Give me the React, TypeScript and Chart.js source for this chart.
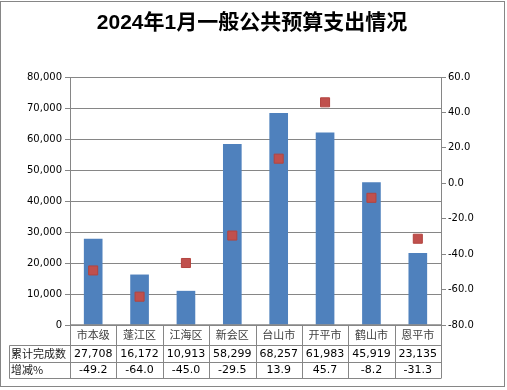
import React, { useEffect, useRef } from "react";
import { Chart, registerables } from "chart.js";

Chart.register(...registerables);

const title = "2024年1月一般公共预算支出情况";
const categories = ["市本级", "蓬江区", "江海区", "新会区", "台山市", "开平市", "鹤山市", "恩平市"];
const completed = [27708, 16172, 10913, 58299, 68257, 61983, 45919, 23135];
const change = [-49.2, -64.0, -45.0, -29.5, 13.9, 45.7, -8.2, -31.3];
const rowLabels = ["累计完成数", "增减%"];

const GRID = "#868686";
const BLUE = "#4F81BD";
const RED = "#C0504D";
const NUM_FONT = '"DejaVu Sans", sans-serif';
const CJK_FONT = '"Noto Sans CJK SC", sans-serif';

const fmtInt = (v: number) => v.toLocaleString("en-US");
const fmt1 = (v: number) => v.toFixed(1);

const decorPlugin = {
  id: "decor",
  beforeDraw(chart: any) {
    const ctx = chart.ctx;
    ctx.save();
    ctx.fillStyle = "#ffffff";
    ctx.fillRect(0, 0, chart.width, chart.height);
    ctx.restore();
  },
  afterDraw(chart: any) {
    const ctx = chart.ctx;
    const a = chart.chartArea;
    const L = a.left;
    const R = a.right;
    const y0 = a.bottom;
    const y1 = y0 + 20;
    const y2 = y1 + 17;
    const y3 = y2 + 16;
    const x0 = 9.5;
    const n = categories.length;
    const w = (R - L) / n;
    ctx.save();
    // outer border
    ctx.strokeStyle = GRID;
    ctx.lineWidth = 1;
    ctx.strokeRect(0.5, 1.5, 504, 385);
    // title
    ctx.fillStyle = "#000";
    ctx.font = 'bold 21px "Liberation Sans", "Noto Sans CJK SC", sans-serif';
    ctx.textAlign = "center";
    ctx.textBaseline = "middle";
    ctx.fillText(title, 252, 23);
    // table lines
    ctx.strokeStyle = GRID;
    ctx.lineWidth = 1;
    ctx.beginPath();
    [y1, y2, y3].forEach((y) => {
      ctx.moveTo(x0, Math.round(y) + 0.5);
      ctx.lineTo(R, Math.round(y) + 0.5);
    });
    for (let i = 0; i <= n; i++) {
      const x = Math.round(L + i * w) + 0.5;
      ctx.moveTo(x, y0);
      ctx.lineTo(x, Math.round(y3) + 0.5);
    }
    ctx.moveTo(x0, Math.round(y1) + 0.5);
    ctx.lineTo(x0, Math.round(y3) + 0.5);
    ctx.stroke();
    // axis line
    ctx.lineWidth = 1.5;
    ctx.beginPath();
    ctx.moveTo(L, y0);
    ctx.lineTo(R, y0);
    ctx.stroke();
    // texts
    ctx.textBaseline = "middle";
    ctx.textAlign = "center";
    ctx.font = "11px " + CJK_FONT;
    ctx.fillStyle = "#404040";
    categories.forEach((c, i) => {
      ctx.fillText(c, L + (i + 0.5) * w, (y0 + y1) / 2);
    });
    ctx.fillStyle = "#000";
    ctx.font = "11px " + NUM_FONT;
    completed.forEach((v, i) => {
      ctx.fillText(fmtInt(v), L + (i + 0.5) * w, (y1 + y2) / 2 + 0.5);
    });
    change.forEach((v, i) => {
      ctx.fillText(fmt1(v), L + (i + 0.5) * w, (y2 + y3) / 2 + 0.5);
    });
    ctx.textAlign = "left";
    ctx.font = "11px " + CJK_FONT;
    ctx.fillStyle = "#202020";
    ctx.fillText(rowLabels[0], x0 + 1.5, (y1 + y2) / 2);
    ctx.fillText(rowLabels[1], x0 + 1.5, (y2 + y3) / 2);
    ctx.restore();
  },
};

export default function App() {
  const ref = useRef<HTMLCanvasElement | null>(null);
  useEffect(() => {
    if (!ref.current) return;
    const chart = new Chart(ref.current, {
      type: "bar",
      data: {
        labels: categories,
        datasets: [
          {
            type: "line" as any,
            label: rowLabels[1],
            data: change,
            yAxisID: "y1",
            showLine: false,
            pointStyle: "rect",
            pointRadius: 6.4,
            pointBackgroundColor: RED,
            pointBorderColor: "#B3443F",
            pointBorderWidth: 1,
            backgroundColor: RED,
            borderColor: RED,
            order: 0,
          } as any,
          {
            type: "bar",
            label: rowLabels[0],
            data: completed,
            yAxisID: "y",
            backgroundColor: BLUE,
            barThickness: 18,
            order: 1,
          },
        ],
      },
      plugins: [decorPlugin],
      options: {
        animation: false,
        responsive: false,
        layout: { padding: { top: 77, left: 0, right: 0, bottom: 0 } },
        plugins: {
          legend: { display: false },
          title: { display: false },
          tooltip: { enabled: false },
        },
        scales: {
          x: {
            grid: { display: false },
            border: { display: false },
            ticks: { display: false },
            afterFit: (s: any) => {
              s.height = 65;
            },
          },
          y: {
            position: "left",
            min: 0,
            max: 80000,
            ticks: {
              stepSize: 10000,
              color: "#000",
              font: { family: NUM_FONT, size: 10 },
              padding: 3,
              callback: (v: any) => fmtInt(Number(v)),
            },
            grid: { color: GRID, tickLength: 5, lineWidth: 1 },
            border: { color: GRID, width: 1 },
            afterFit: (s: any) => {
              s.width = 70;
            },
          },
          y1: {
            position: "right",
            min: -80,
            max: 60,
            ticks: {
              stepSize: 20,
              color: "#000",
              font: { family: NUM_FONT, size: 10 },
              padding: 2,
              callback: (v: any) => fmt1(Number(v)),
            },
            grid: { color: GRID, tickLength: 5, drawOnChartArea: false },
            border: { color: GRID, width: 1 },
            afterFit: (s: any) => {
              s.width = 66;
            },
          },
        },
      } as any,
    });
    return () => chart.destroy();
  }, []);
  return (
    <div style={{ position: "absolute", left: 0, top: 0, width: 507, height: 390, background: "#fff" }}>
      <canvas ref={ref} width={507} height={390} style={{ width: 507, height: 390, display: "block" }} />
    </div>
  );
}
